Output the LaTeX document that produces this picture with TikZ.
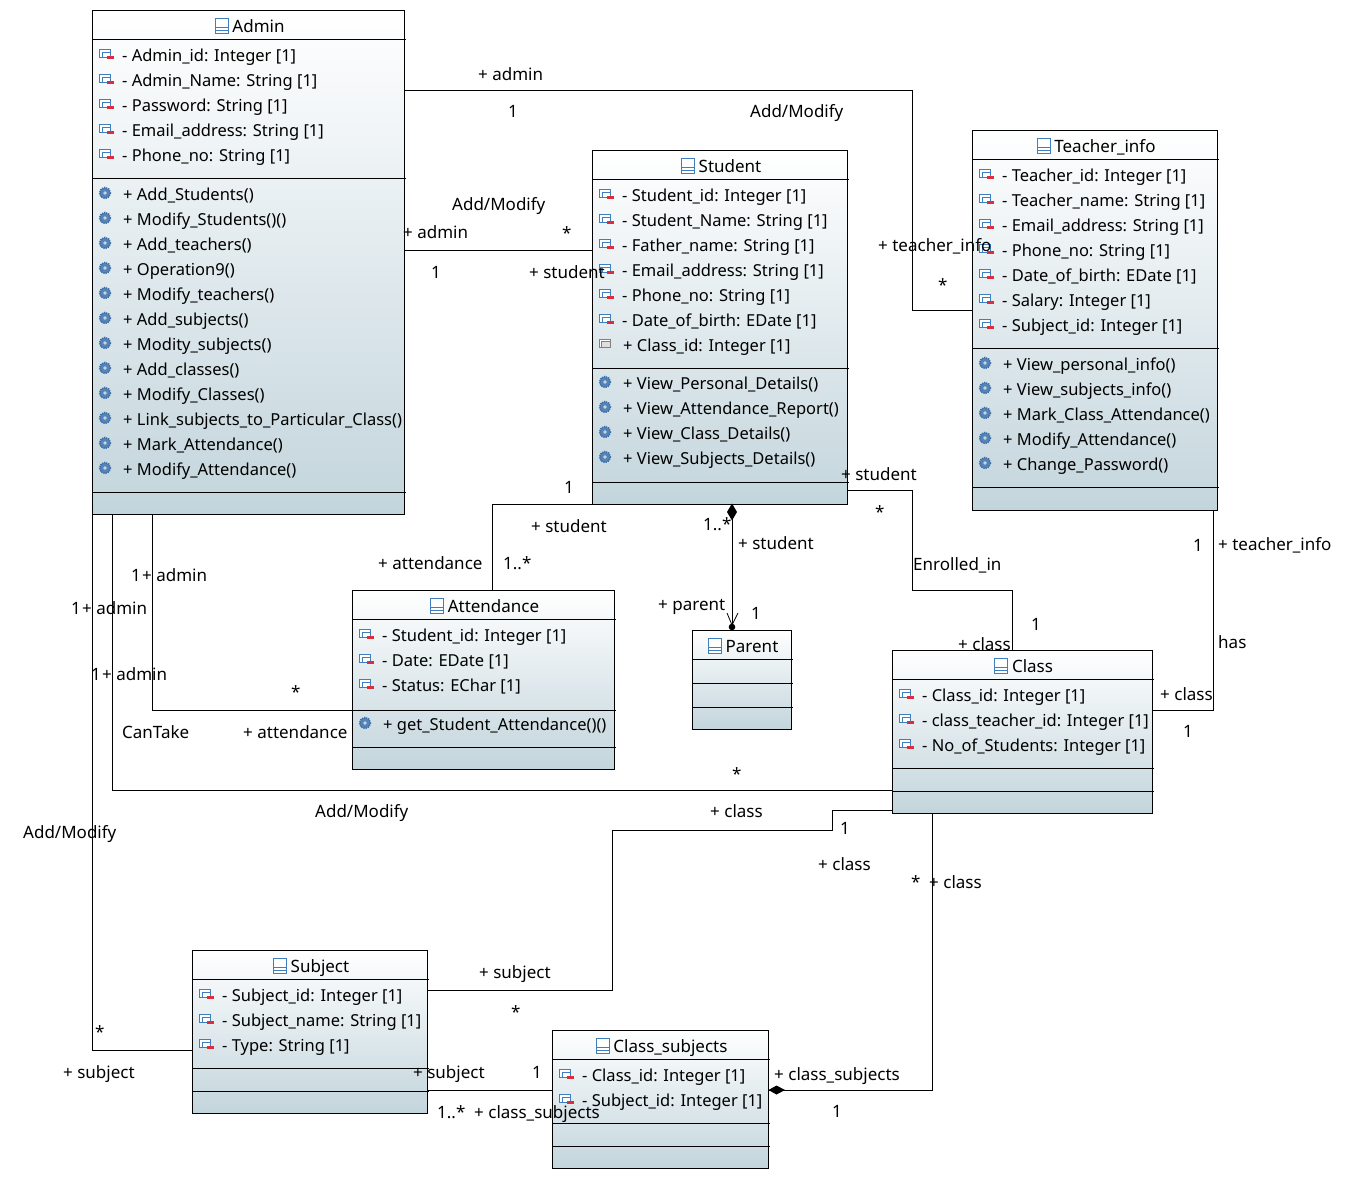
\documentclass[tikz,border=0pt]{standalone}
\usepackage{fontspec}
\setmainfont{Noto Sans}
\usetikzlibrary{arrows.meta}
\definecolor{bluei}{HTML}{3F7FBF}
\definecolor{gearb}{HTML}{3A6EA8}
\definecolor{shade}{HTML}{C3D5DC}
\definecolor{minusred}{HTML}{DD2C3C}
\newcount\nn
\newcommand{\nxt}{\global\advance\nn by 1\relax}
\tikzset{
 x=1pt,y=-1pt,
 conn/.style={draw=black,line width=0.8pt},
 classbox/.style={draw=black,line width=0.8pt,top color=white,bottom color=shade,anchor=north west,inner sep=0pt,outer sep=0pt},
 row/.style={anchor=base west,inner sep=0pt,font=\fontsize{16.5}{20}\selectfont},
 lab/.style={anchor=base west,inner sep=0pt,font=\fontsize{17}{20}\selectfont},
}
% \umlbox{name}{x1}{y1}{x2}{y2}{seps}{title}
\newcommand{\umlbox}[7]{%
 \pgfmathsetmacro{\bw}{#4-#2-0.6}\pgfmathsetmacro{\bh}{#5-#3}
 \node[classbox,minimum width=\bw pt,minimum height=\bh pt] (#1) at (#2,#3) {};
 \foreach \s in {#6} {\draw[line width=0.8pt] (#2,\s) -- (#4+0.5,\s);}
 \pgfmathsetmacro{\cx}{(#2+#4)/2+10}
 \node[inner sep=0pt,anchor=base,font=\fontsize{17}{20}\selectfont] (#1title) at (\cx,#3+22.5) {#7};
 \begin{scope}[shift={(#1title.base west)}]
  \draw[bluei,line width=0.8pt,fill=white] (-17,-14.5) rectangle (-4,0.5);
  \draw[bluei,line width=0.8pt] (-17,-5.5) -- (-4,-5.5) (-17,-2.5) -- (-4,-2.5);
 \end{scope}
}
\newcommand{\aicon}[3]{%
 \begin{scope}[shift={(#1,#2)}]
  \ifx#3m%
   \draw[bluei,line width=0.8pt,fill=white] (0,-5) rectangle (11,3);
   \draw[bluei,line width=0.8pt] (3,-2) rectangle (11,3);
   \fill[minusred] (8,1.5) rectangle (15,4.5);
  \else
   \draw[gray,line width=0.8pt,fill=white] (0,-5) rectangle (11,3);
   \draw[gray,line width=0.8pt,fill=gray!25] (2.5,-2.5) rectangle (11,3);
  \fi
 \end{scope}}
\newcommand{\attr}[3]{\aicon{#1+7}{#2-1}{m}\nxt\node[row] (n\the\nn) at (#1+30,#2+6) {- #3};}
\newcommand{\pattr}[3]{\aicon{#1+7}{#2-1}{p}\nxt\node[row] (n\the\nn) at (#1+31,#2+6) {+ #3};}
\newcommand{\oper}[3]{%
 \draw[gearb,line width=1.6pt,dash pattern=on 1.2pt off 1pt,fill=gearb!85] (#1+13,#2-1) circle (5.5);
 \fill[white!70!gearb] (#1+13,#2-1) circle (1.8);
 \nxt\node[row] (n\the\nn) at (#1+31,#2+6) {+ #3};}
\newcommand{\lb}[3]{\nxt\node[lab] (n\the\nn) at (#1,#2+7) {#3};}
\begin{document}
\begin{tikzpicture}
\useasboundingbox[fill=white] (0,0) rectangle (1352,1179);
% classes
\umlbox{Admin}{92}{10}{405}{514}{39,178,492}{Admin}
\attr{92}{55}{Admin\_id: Integer [1]}
\attr{92}{80}{Admin\_Name: String [1]}
\attr{92}{105}{Password: String [1]}
\attr{92}{130}{Email\_address: String [1]}
\attr{92}{155}{Phone\_no: String [1]}
\oper{92}{194}{Add\_Students()}
\oper{92}{219}{Modify\_Students()()}
\oper{92}{244}{Add\_teachers()}
\oper{92}{269}{Operation9()}
\oper{92}{294}{Modify\_teachers()}
\oper{92}{319}{Add\_subjects()}
\oper{92}{344}{Modity\_subjects()}
\oper{92}{369}{Add\_classes()}
\oper{92}{394}{Modify\_Classes()}
\oper{92}{419}{Link\_subjects\_to\_Particular\_Class()}
\oper{92}{444}{Mark\_Attendance()}
\oper{92}{469}{Modify\_Attendance()}

\umlbox{Student}{592}{150}{848}{504}{179,368,482}{Student}
\attr{592}{195}{Student\_id: Integer [1]}
\attr{592}{220}{Student\_Name: String [1]}
\attr{592}{245}{Father\_name: String [1]}
\attr{592}{270}{Email\_address: String [1]}
\attr{592}{295}{Phone\_no: String [1]}
\attr{592}{320}{Date\_of\_birth: EDate [1]}
\pattr{592}{345}{Class\_id: Integer [1]}
\oper{592}{383}{View\_Personal\_Details()}
\oper{592}{408}{View\_Attendance\_Report()}
\oper{592}{433}{View\_Class\_Details()}
\oper{592}{458}{View\_Subjects\_Details()}

\umlbox{Teacher}{972}{130}{1218}{510}{159,348,487}{Teacher\_info}
\attr{972}{175}{Teacher\_id: Integer [1]}
\attr{972}{200}{Teacher\_name: String [1]}
\attr{972}{225}{Email\_address: String [1]}
\attr{972}{250}{Phone\_no: String [1]}
\attr{972}{275}{Date\_of\_birth: EDate [1]}
\attr{972}{300}{Salary: Integer [1]}
\attr{972}{325}{Subject\_id: Integer [1]}
\oper{972}{364}{View\_personal\_info()}
\oper{972}{389}{View\_subjects\_info()}
\oper{972}{414}{Mark\_Class\_Attendance()}
\oper{972}{439}{Modify\_Attendance()}
\oper{972}{464}{Change\_Password()}

\umlbox{Attendance}{352}{590}{615}{769}{619,710,747}{Attendance}
\attr{352}{635}{Student\_id: Integer [1]}
\attr{352}{660}{Date: EDate [1]}
\attr{352}{685}{Status: EChar [1]}
\oper{352}{724}{get\_Student\_Attendance()()}

\umlbox{Parent}{692}{630}{792}{729}{659,683,707}{Parent}

\umlbox{Class}{892}{650}{1153}{813}{679,768,791}{Class}
\attr{892}{695}{Class\_id: Integer [1]}
\attr{892}{720}{class\_teacher\_id: Integer [1]}
\attr{892}{745}{No\_of\_Students: Integer [1]}

\umlbox{Subject}{192}{950}{428}{1113}{979,1068,1091}{Subject}
\attr{192}{995}{Subject\_id: Integer [1]}
\attr{192}{1020}{Subject\_name: String [1]}
\attr{192}{1045}{Type: String [1]}

\umlbox{ClassSubjects}{552}{1030}{769}{1168}{1059,1123,1146}{Class\_subjects}
\attr{552}{1075}{Class\_id: Integer [1]}
\attr{552}{1100}{Subject\_id: Integer [1]}

% connector bends
\coordinate (a1) at (912,90); \coordinate (a2) at (912,310);
\draw[conn] (Admin.east |- a1) -- (a1) -- (a2) -- (Teacher.west |- a2);
\coordinate (b1) at (500,250);
\draw[conn] (Admin.east |- b1) -- (Student.west |- b1);
\coordinate (c1) at (492,504); \coordinate (c2) at (732,504);
\draw[conn] (Attendance.north -| c1) -- (c1) -- (Student.south -| c2);
\coordinate (d1) at (732,520);
\draw[conn] (Student.south -| d1) -- (Parent.north -| d1);
\fill (732,503.5) -- (737,512) -- (732,520.5) -- (727,512) -- cycle;
\draw[line width=0.8pt] (727,613) -- (732,625) -- (738,613);
\fill (732,627) circle (3.3);
\coordinate (e1) at (912,490); \coordinate (e2) at (912,590); \coordinate (e3) at (1012,590);
\draw[conn] (Student.east |- e1) -- (e1) -- (e2) -- (e3) -- (Class.north -| e3);
\coordinate (f1) at (1213,710);
\draw[conn] (Teacher.south -| f1) -- (f1) -- (Class.east |- f1);
\coordinate (g1) at (152,710);
\draw[conn] (Admin.south -| g1) -- (g1) -- (Attendance.west |- g1);
\coordinate (h1) at (112,790);
\draw[conn] (Admin.south -| h1) -- (h1) -- (Class.west |- h1);
\coordinate (i1) at (92,1050);
\draw[conn] (Admin.south west) -- (i1) -- (Subject.west |- i1);
\coordinate (j1) at (832,810); \coordinate (j2) at (832,830); \coordinate (j3) at (612,830); \coordinate (j4) at (612,990);
\draw[conn] (Class.west |- j1) -- (j1) -- (j2) -- (j3) -- (j4) -- (Subject.east |- j4);
\coordinate (k1) at (932,1090);
\draw[conn] (Class.south -| k1) -- (k1) -- (ClassSubjects.east |- k1);
\fill (768.5,1090) -- (776.5,1085.5) -- (785,1090) -- (776.5,1094.5) -- cycle;
\coordinate (l1) at (500,1090);
\draw[conn] (Subject.east |- l1) -- (ClassSubjects.west |- l1);

% labels
\lb{478}{73.5}{+ admin}
\lb{508}{110.5}{1}
\lb{750}{110.5}{Add/Modify}
\lb{452}{203.5}{Add/Modify}
\lb{403}{231.5}{+ admin}
\lb{562}{232}{*}
\lb{431}{271.5}{1}
\lb{529}{271.5}{+ student}
\lb{878}{244.5}{+ teacher\_info}
\lb{938}{284}{*}
\lb{564}{486.5}{1}
\lb{531}{525.5}{+ student}
\lb{378}{562.5}{+ attendance}
\lb{503}{562.5}{1..*}
\lb{703}{523.5}{1..*}
\lb{738}{542.5}{+ student}
\lb{658}{603.5}{+ parent}
\lb{751}{612.5}{1}
\lb{841}{473.5}{+ student}
\lb{875}{511}{*}
\lb{913}{563.5}{Enrolled\_in}
\lb{1031}{623.5}{1}
\lb{958}{643.5}{+ class}
\lb{1193}{544.5}{1}
\lb{1218}{543.5}{+ teacher\_info}
\lb{1218}{641.5}{has}
\lb{1160}{693.5}{+ class}
\lb{1183}{730.5}{1}
\lb{131}{574.5}{1}
\lb{142}{574.5}{+ admin}
\lb{71}{607.5}{1}
\lb{82}{607.5}{+ admin}
\lb{91}{673.5}{1}
\lb{102}{673.5}{+ admin}
\lb{291}{691}{*}
\lb{122}{731.5}{CanTake}
\lb{243}{731.5}{+ attendance}
\lb{732}{773}{*}
\lb{315}{810.5}{Add/Modify}
\lb{23}{831.5}{Add/Modify}
\lb{710}{810.5}{+ class}
\lb{840}{827.5}{1}
\lb{818}{863.5}{+ class}
\lb{911}{881}{*}
\lb{929}{881.5}{+ class}
\lb{479}{971.5}{+ subject}
\lb{511}{1011}{*}
\lb{95}{1031}{*}
\lb{63}{1071.5}{+ subject}
\lb{413}{1071.5}{+ subject}
\lb{532}{1071.5}{1}
\lb{437}{1111.5}{1..*}
\lb{474}{1111.5}{+ class\_subjects}
\lb{774}{1073.5}{+ class\_subjects}
\lb{832}{1110.5}{1}
\end{tikzpicture}
\end{document}
